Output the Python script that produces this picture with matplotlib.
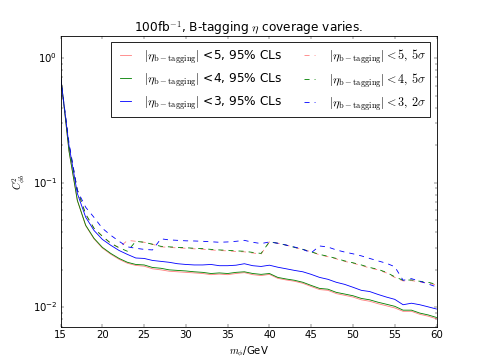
import matplotlib
matplotlib.use('Agg')
import matplotlib.pyplot as plt

plt.style.use('classic')
plt.rcParams['mathtext.fontset'] = 'cm'

# scalar mass points (GeV)
mass = list(range(15, 61))

# 95% CLs limits
cls_eta5 = [0.73, 0.18, 0.072, 0.0452, 0.0354, 0.0299, 0.0267, 0.0243, 0.0226, 0.0217,
            0.0214, 0.0204, 0.0200, 0.0195, 0.0193, 0.0191, 0.0189, 0.0187, 0.0183, 0.0185,
            0.0183, 0.0187, 0.0190, 0.0183, 0.0180, 0.0184, 0.0171, 0.0166, 0.0162, 0.0156,
            0.0147, 0.0139, 0.0137, 0.0129, 0.0125, 0.0121, 0.0115, 0.0112, 0.0107, 0.0103,
            0.0099, 0.0093, 0.0093, 0.0088, 0.0085, 0.0081]
cls_eta4 = [0.73, 0.18, 0.0723, 0.0456, 0.0358, 0.0303, 0.0271, 0.0247, 0.0230, 0.0221,
            0.0219, 0.0209, 0.0206, 0.0200, 0.0198, 0.0196, 0.0193, 0.0191, 0.0187, 0.0189,
            0.0187, 0.0191, 0.0193, 0.0187, 0.0184, 0.0187, 0.0174, 0.0169, 0.0165, 0.0159,
            0.0150, 0.0142, 0.0140, 0.0132, 0.0128, 0.0124, 0.0118, 0.0115, 0.0110, 0.0106,
            0.0102, 0.0095, 0.0095, 0.0090, 0.0087, 0.0083]
cls_eta3 = [0.70, 0.20, 0.0822, 0.0529, 0.0414, 0.0351, 0.0315, 0.0286, 0.0266, 0.0249,
            0.0247, 0.0238, 0.0234, 0.0230, 0.0224, 0.0221, 0.0219, 0.0219, 0.0221, 0.0216,
            0.0216, 0.0218, 0.0224, 0.0216, 0.0213, 0.0218, 0.0210, 0.0204, 0.0198, 0.0193,
            0.0184, 0.0174, 0.0168, 0.0159, 0.0153, 0.0145, 0.0137, 0.0134, 0.0127, 0.0121,
            0.0116, 0.0105, 0.0108, 0.0105, 0.0101, 0.0097]

# discovery reach
sig_eta5 = [0.70, 0.20, 0.088, 0.056, 0.0431, 0.0372, 0.0327, 0.0301, 0.0345, 0.0339,
            0.0333, 0.0321, 0.0306, 0.0303, 0.0300, 0.0298, 0.0295, 0.0293, 0.0289, 0.0286,
            0.0284, 0.0281, 0.0279, 0.0273, 0.0268, 0.0336, 0.0327, 0.0316, 0.0303, 0.0292,
            0.0279, 0.0264, 0.0255, 0.0245, 0.0234, 0.0226, 0.0217, 0.0207, 0.0200, 0.0189,
            0.0174, 0.0163, 0.0164, 0.0160, 0.0157, 0.0151]
sig_eta4 = [0.70, 0.20, 0.088, 0.056, 0.0431, 0.0372, 0.0327, 0.0301, 0.0282, 0.0339,
            0.0333, 0.0321, 0.0309, 0.0306, 0.0303, 0.0301, 0.0298, 0.0296, 0.0292, 0.0289,
            0.0287, 0.0284, 0.0282, 0.0276, 0.0271, 0.0336, 0.0327, 0.0316, 0.0303, 0.0292,
            0.0279, 0.0266, 0.0257, 0.0247, 0.0236, 0.0228, 0.0219, 0.0209, 0.0202, 0.0191,
            0.0176, 0.0165, 0.0166, 0.0162, 0.0159, 0.0153]
sig_eta3 = [0.70, 0.21, 0.0866, 0.0636, 0.0527, 0.0431, 0.0379, 0.0339, 0.0306, 0.0298,
            0.0292, 0.0289, 0.0355, 0.0348, 0.0345, 0.0342, 0.0341, 0.0339, 0.0336, 0.0333,
            0.0335, 0.0339, 0.0345, 0.0333, 0.0325, 0.0335, 0.0327, 0.0316, 0.0305, 0.0292,
            0.0274, 0.0311, 0.0305, 0.0289, 0.0278, 0.0269, 0.0259, 0.0247, 0.0236, 0.0226,
            0.0212, 0.0165, 0.0170, 0.0162, 0.0154, 0.0146]

tag = r'$|\eta_{\rm b-tagging}|$'

fig = plt.figure(figsize=(8, 5.99), dpi=60.625)
ax = fig.add_subplot(111)

ax.plot(mass, cls_eta5, color='red', ls='-', alpha=0.5, label=tag + ' <5, 95% CLs')
ax.plot(mass, cls_eta4, color='green', ls='-', label=tag + ' <4, 95% CLs')
ax.plot(mass, cls_eta3, color='blue', ls='-', label=tag + ' <3, 95% CLs')
ax.plot(mass, sig_eta5, color='red', ls='--', alpha=0.5, label=r'$|\eta_{\rm b-tagging}|<5,\, 5\sigma$')
ax.plot(mass, sig_eta4, color='green', ls='--', label=r'$|\eta_{\rm b-tagging}|<4,\, 5\sigma$')
ax.plot(mass, sig_eta3, color='blue', ls='--', label=r'$|\eta_{\rm b-tagging}|<3,\, 2\sigma$')

ax.set_yscale('log')
ax.set_xlim(15, 60)
ax.set_ylim(0.007, 1.5)
ax.set_xlabel(r'$m_\phi$/GeV')
ax.set_ylabel(r'$C^2_{\phi b}$')
ax.set_title(r'100fb$^{-1}$, B-tagging $\eta$ coverage varies.')
ax.legend(loc='upper right', ncol=2, handlelength=1.5, columnspacing=1.5)

fig.savefig('out.png', dpi=60.625)
